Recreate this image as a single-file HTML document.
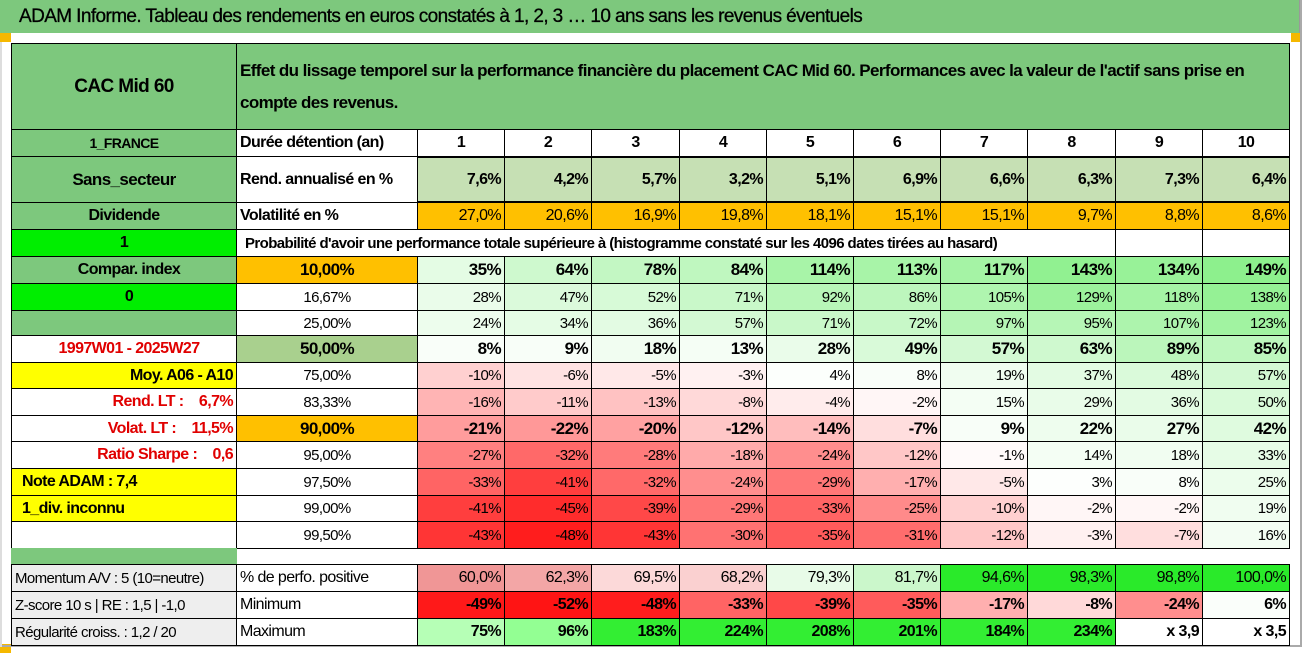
<!DOCTYPE html>
<html><head><meta charset="utf-8">
<style>
body{margin:0;width:1304px;height:653px;background:#fff;position:relative;overflow:hidden;font-family:"Liberation Sans",sans-serif;}
.c{position:absolute;box-sizing:border-box;border:1px solid #000;display:flex;align-items:center;font-size:15px;letter-spacing:-0.6px;white-space:nowrap;overflow:hidden;color:#000;}
.r{justify-content:flex-end;padding-right:3px}
.m{justify-content:center}
.l{justify-content:flex-start;padding-left:3px}
.b{font-weight:bold}
</style></head>
<body>
<div style="position:absolute;left:0;top:0;width:1301px;height:33px;background:#7dc87d;border-right:2px solid #999;font-size:19px;letter-spacing:-0.6px;padding-left:19px;line-height:33px;box-sizing:border-box;-webkit-text-stroke:0.3px #000">ADAM Informe. Tableau des rendements en euros constatés à 1, 2, 3 … 10 ans sans les revenus éventuels</div>
<div style="position:absolute;left:0;top:33px;width:11px;height:9px;background:#f5b800"></div>
<div style="position:absolute;left:1291px;top:33px;width:10px;height:9px;background:#f5b800"></div>
<div style="position:absolute;left:0;top:644px;width:11px;height:9px;background:#f5b800"></div>
<div style="position:absolute;left:0;top:645px;width:1301px;height:2px;background:#aaa"></div>
<div style="position:absolute;left:0;top:42px;width:2px;height:605px;background:#ddd"></div>
<div style="position:absolute;left:1300px;top:0;width:2px;height:647px;background:#aaa"></div>
<div id="t"></div>
<script>
const years = ["1","2","3","4","5","6","7","8","9","10"];
const rendAnn = ["7,6%","4,2%","5,7%","3,2%","5,1%","6,9%","6,6%","6,3%","7,3%","6,4%"];
const volat = ["27,0%","20,6%","16,9%","19,8%","18,1%","15,1%","15,1%","9,7%","8,8%","8,6%"];
const pctLabels = ["10,00%","16,67%","25,00%","50,00%","75,00%","83,33%","90,00%","95,00%","97,50%","99,00%","99,50%"];
const p10 = [35,64,78,84,114,113,117,143,134,149];
const p16 = [28,47,52,71,92,86,105,129,118,138];
const p25 = [24,34,36,57,71,72,97,95,107,123];
const p50 = [8,9,18,13,28,49,57,63,89,85];
const p75 = [-10,-6,-5,-3,4,8,19,37,48,57];
const p83 = [-16,-11,-13,-8,-4,-2,15,29,36,50];
const p90 = [-21,-22,-20,-12,-14,-7,9,22,27,42];
const p95 = [-27,-32,-28,-18,-24,-12,-1,14,18,33];
const p975 = [-33,-41,-32,-24,-29,-17,-5,3,8,25];
const p99 = [-41,-45,-39,-29,-33,-25,-10,-2,-2,19];
const p995 = [-43,-48,-43,-30,-35,-31,-12,-3,-7,16];
const posPct = [60.0,62.3,69.5,68.2,79.3,81.7,94.6,98.3,98.8,100.0];
const minimum = [-49,-52,-48,-33,-39,-35,-17,-8,-24,6];
const maximum = ["75%","96%","183%","224%","208%","201%","184%","234%","x 3,9","x 3,5"];
const maxVals = [75,96,183,224,208,201,184,234,390,350];

const T=document.getElementById('t');
const X0=11,X1=236,X2=417,CW=87.2;
function mix(a,b,t){t=Math.max(0,Math.min(1,t));return 'rgb('+a.map((v,i)=>Math.round(v+(b[i]-v)*t)).join(',')+')';}
const W=[255,255,255];
function heat(v){return v<0?mix(W,[255,20,20],-v/50):mix(W,[140,240,140],v/150);}
function cell(x,y,w,h,txt,cls,bg,name,extra){
  const d=document.createElement('div');
  d.className='c '+cls;
  d.style.left=x+'px';d.style.top=y+'px';d.style.width=(w+1)+'px';d.style.height=(h+1)+'px';
  if(bg)d.style.background=bg;
  if(extra)Object.assign(d.style,extra);
  d.textContent=txt;
  
  
  T.appendChild(d);return d;
}
const G='#7dc87d';
cell(X0,43,X1-X0,86,'CAC Mid 60','m b',G,'asset-name',{fontSize:'19px'});
cell(X1,43,1289-X1,86,"Effet du lissage temporel sur la performance financière du placement CAC Mid 60. Performances avec la valeur de l'actif sans prise en compte des revenus.",'l b',G,'table-description',{whiteSpace:'normal',lineHeight:'32px',fontSize:'17px',alignItems:'center'});
function dx(i){return Math.round(X2+CW*i);}
function dw(i){return Math.round(X2+CW*(i+1))-dx(i);}
cell(X0,129,X1-X0,27,'1_FRANCE','m b',G,'country-label',{fontSize:'14px'});
cell(X1,129,X2-X1,27,'Durée détention (an)','l b','#fff','holding-period-label',{fontSize:'16px'});
years.forEach((v,i)=>cell(dx(i),129,dw(i),27,v,'m b','#fff','year-'+v,{fontSize:'16px'}));
cell(X0,156,X1-X0,46,'Sans_secteur','m b',G,'sector-label',{fontSize:'17px'});
cell(X1,156,X2-X1,46,'Rend. annualisé en %','l b','#fff','annual-return-label',{fontSize:'16px'});
rendAnn.forEach((v,i)=>cell(dx(i),156,dw(i),46,v,'r b','#c6e0b4','annual-return-y'+(i+1),{borderTop:'2px solid #000',borderBottom:'2px solid #000',fontSize:'16px'}));
cell(X0,202,X1-X0,27,'Dividende','m b',G,'dividend-label',{fontSize:'16px'});
cell(X1,202,X2-X1,27,'Volatilité en %','l b','#fff','volatility-label',{fontSize:'16px'});
volat.forEach((v,i)=>cell(dx(i),202,dw(i),27,v,'r','#ffc000','volatility-y'+(i+1),{fontSize:'16px'}));
cell(X0,229,X1-X0,27,'1','m b','#00ee00','dividend-flag',{fontSize:'16px'});
cell(X1,229,dx(8)-X1,27,"Probabilité d'avoir une performance totale supérieure à (histogramme constaté sur les 4096 dates tirées au hasard)",'l b','#fff','probability-header',{paddingLeft:'8px'});
cell(dx(8),229,dw(8),27,'','m','#fff','blank-9');
cell(dx(9),229,dw(9),27,'','m','#fff','blank-10');
const leftLabels=[['Compar. index','m b',G,'#000'],['0','m b','#00ee00','#000'],['','m',G,'#000'],['1997W01 - 2025W27','m b','#fff','#e00000'],
['Moy. A06 - A10','r b','#ffff00','#000'],['Rend. LT :    6,7%','r b','#fff','#e00000'],['Volat. LT :    11,5%','r b','#fff','#e00000'],['Ratio Sharpe :    0,6','r b','#fff','#e00000'],
['Note ADAM : 7,4','l b','#ffff00','#000'],['1_div. inconnu','l b','#ffff00','#000'],['','m','#fff','#000']];
const grid=[p10,p16,p25,p50,p75,p83,p90,p95,p975,p99,p995];
const rY=[256,283,310,335,362,388,415,441,468,495,521,548];
const boldRows=[0,3,6];
grid.forEach((row,r)=>{
  const y=rY[r],hh=rY[r+1]-y;
  const L=leftLabels[r];
  cell(X0,y,X1-X0,hh,L[0],L[1],L[2],'left-info-'+r,{color:L[3],paddingLeft:'10px',fontSize:'16px',whiteSpace:'pre'});
  const bgc = r===0||r===6?'#ffc000':(r===3?'#a9d08e':'#fff');
  const bold=boldRows.includes(r);
  cell(X1,y,X2-X1,hh,pctLabels[r],'m'+(bold?' b':''),bgc,'percentile-'+r,{fontSize:bold?'17px':'15px'});
  row.forEach((v,i)=>cell(dx(i),y,dw(i),hh,v+'%','r'+(bold?' b':''),heat(v),'prob-cell-r'+r+'-y'+(i+1),{fontSize:bold?'17px':'15px'}));
});
cell(X0,548,X1-X0,16,'','m',G,'separator-strip',{border:'none'});
cell(X0,564,X1-X0,27,'Momentum A/V : 5 (10=neutre)','l','#eeeeee','momentum-label',{fontSize:'15px'});
cell(X1,564,X2-X1,27,'% de perfo. positive','l','#fff','positive-pct-label',{fontSize:'16px'});
posPct.forEach((v,i)=>cell(dx(i),564,dw(i),27,v.toFixed(1).replace('.',',')+'%','r',v<78?mix([255,235,235],[240,150,150],(72-v)/12):v<90?mix([235,252,235],[200,246,200],(v-79)/3):'#2aea2a','positive-pct-y'+(i+1),{fontSize:'16px'}));
cell(X0,591,X1-X0,27,'Z-score 10 s | RE : 1,5 | -1,0','l','#eeeeee','zscore-label',{fontSize:'15px'});
cell(X1,591,X2-X1,27,'Minimum','l','#fff','minimum-label',{fontSize:'16px'});
minimum.forEach((v,i)=>cell(dx(i),591,dw(i),27,v+'%','r b',heat(v),'minimum-y'+(i+1),{fontSize:'16px'}));
cell(X0,618,X1-X0,27,'Régularité croiss. : 1,2 / 20','l','#eeeeee','regularity-label',{fontSize:'15px'});
cell(X1,618,X2-X1,27,'Maximum','l','#fff','maximum-label',{fontSize:'16px'});
maximum.forEach((v,i)=>{const m=maxVals[i];cell(dx(i),618,dw(i),27,v,'r b',m>300?'#fff':(m>150?'#33ee33':mix([190,255,190],[140,255,140],(m-70)/30)),'maximum-y'+(i+1),{fontSize:'16px'});});
</script>
</body></html>
